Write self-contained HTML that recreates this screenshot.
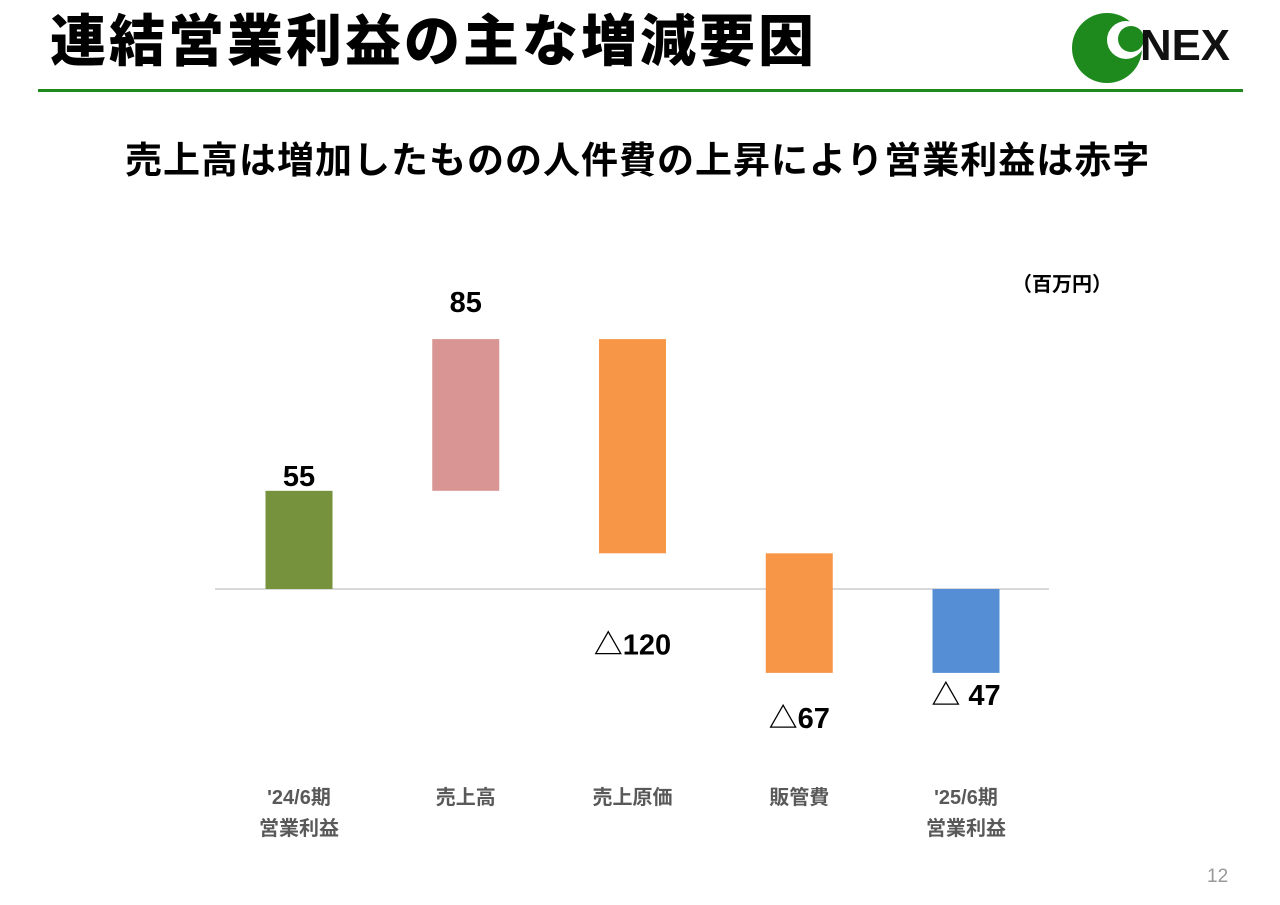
<!DOCTYPE html>
<html><head><meta charset="utf-8">
<style>
body{margin:0;width:1280px;height:905px;background:#fff;overflow:hidden;font-family:"Liberation Sans","Noto Sans CJK JP",sans-serif;position:relative}
.t{position:absolute;white-space:nowrap;color:#000}
</style></head><body>
<div class="t" style="left:50px;top:7px;font-size:56px;line-height:70px;font-weight:900;letter-spacing:3px">連結営業利益の主な増減要因</div>
<div style="position:absolute;left:38px;top:89px;width:1205px;height:3px;background:#1e8a1e"></div>
<svg style="position:absolute;left:1070px;top:8px" width="170" height="80">
<circle cx="37" cy="40" r="35" fill="#1e8a1e"/>
<circle cx="56" cy="32" r="19" fill="#fff"/>
<circle cx="61" cy="31" r="13" fill="#1e8a1e"/>
<text x="70" y="52" font-family="Liberation Sans Narrow, Liberation Sans, sans-serif" font-weight="bold" font-size="44" fill="#111" textLength="90" lengthAdjust="spacingAndGlyphs">NEX</text>
</svg>
<div class="t" style="left:125px;top:138px;font-size:37px;line-height:46px;font-weight:bold;letter-spacing:1px">売上高は増加したものの人件費の上昇により営業利益は赤字</div>
<div class="t" style="left:1012px;top:268px;font-size:20px;font-weight:bold">（百万円）</div>
<svg id="chart" style="position:absolute;left:0;top:0" width="1280" height="905"></svg>
<div class="t" style="left:1207px;top:866px;font-size:19px;color:#999">12</div>
<script>
const categories=["'24/6期\n営業利益","売上高","売上原価","販管費","'25/6期\n営業利益"];
const deltas=[55,85,-120,-67,-47];
const isTotal=[true,false,false,false,true];
const valueLabels=["55","85","△120","△67","△ 47"];
const colors=["#76923c","#d99594","#f79646","#f79646","#558ed5"];
const labelDy=[-5,-27,101,55,32];
const svg=document.getElementById('chart');
const NS='http://www.w3.org/2000/svg';
const zeroY=589,scale=1.785,x0=299,step=166.75,bw=67;
const y=v=>zeroY-v*scale;
const xc=i=>x0+i*step;
function mk(t,a){const e=document.createElementNS(NS,t);for(const k in a)e.setAttribute(k,a[k]);svg.appendChild(e);return e;}
const axis=mk('line',{x1:215,x2:1049,y1:zeroY,y2:zeroY,stroke:'#d9d9d9','stroke-width':2});


let cum=0;
deltas.forEach((d,i)=>{
  let a,b;
  if(isTotal[i]){a=0;b=d;cum=d;}else{a=cum;b=cum+d;cum=b;}
  const top=y(Math.max(a,b)),bot=y(Math.min(a,b));
  const r=mk('rect',{x:xc(i)-bw/2,y:top,width:bw,height:bot-top,fill:colors[i]});
  
  
  const ly=d>=0?top+labelDy[i]:bot+labelDy[i];
  const t=mk('text',{x:xc(i),y:ly,'text-anchor':'middle','font-size':29,'font-weight':'bold',fill:'#000'});
  t.textContent=valueLabels[i];
  
  
  categories[i].split('\n').forEach((ln,j)=>{
    const c=mk('text',{x:xc(i),y:804+j*31,'text-anchor':'middle','font-size':20,'font-weight':'bold',fill:'#595959'});
    c.textContent=ln;
    
    
  });
});
</script>
</body></html>
